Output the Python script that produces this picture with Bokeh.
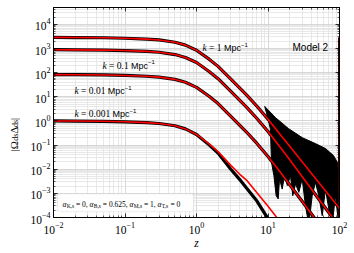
import math
from bokeh.plotting import figure
from bokeh.layouts import row
from bokeh.models import Range1d, LogAxis, FixedTicker, Label, BoxAnnotation
from bokeh.embed import file_html
from bokeh.resources import INLINE

# ---------------- data ----------------
z = [0.01, 0.02, 0.05, 0.1, 0.2, 0.3, 0.5, 0.7, 1.0, 1.5, 2.0, 3.0, 4.0, 5.0,
     7.0, 10.0, 15.0, 20.0, 30.0, 50.0, 70.0, 100.0]

# red curves (approximation)
approx_k1 = [2884, 2851, 2786, 2661, 2455, 2265, 1820, 1380, 851, 363, 182, 55.0,
             23.4, 12.0, 4.07, 1.17, 0.263, 0.0912, 0.0204, 0.00309, 0.000891, 0.00024]
approx_k01 = [891, 881, 861, 822, 759, 700, 562, 427, 263, 112, 56.2, 17.0, 7.24,
              3.72, 1.26, 0.363, 0.0776, 0.0251, 0.00501, 0.000646, 0.00017, 0.0000407]
approx_k001 = [83.2, 82.2, 80.4, 76.7, 70.8, 65.3, 52.5, 39.8, 24.5, 10.5, 5.25, 1.58,
               0.676, 0.347, 0.117, 0.0339, 0.00724, 0.00234, 0.000468, 0.0000603,
               0.0000158, 0.0000038]
approx_k0001 = [1.0, 0.989, 0.966, 0.923, 0.851, 0.785, 0.631, 0.468, 0.275, 0.112,
                0.0537, 0.0148, 0.00631, 0.00355, 0.00107, 0.000295, 0.0000631,
                0.00002, 0.000004, 5e-7, 1.26e-7, 3.16e-8]

# black curves (full solution)
exact_k1 = list(approx_k1)
exact_k01 = list(approx_k01)
exact_k001 = list(approx_k001)
exact_k0001 = [1.0, 0.989, 0.966, 0.923, 0.851, 0.785, 0.631, 0.468, 0.275, 0.102,
               0.0468, 0.0102, 0.0038, 0.00166, 0.000479, 0.0000891, 0.000005,
               6.3e-7, 6.3e-8, 1e-8, 3e-9, 1e-9]

# envelope of the oscillating black curves (k = 0.1 and 1) at high z
osc_z = [9.0, 12.7, 19.4, 30.4, 46.1, 63.7, 82.4, 93.7, 96.8, 100, 100,
         97.7, 87.9, 79.1, 70.8, 63.7, 57.3, 51.3, 46.1, 41.5, 37.2, 33.4, 30.1,
         27.0, 24.3, 22.2, 20.6, 18.6, 17.2, 15.8, 14.5, 13.9, 13.0, 12.1, 11.2,
         10.8, 9.5]
osc_v = [4.0, 1.38, 0.48, 0.20, 0.115, 0.072, 0.037, 0.019, 0.0072, 0.0028, 5e-5,
         5e-5, 8e-4, 5e-5, 2.25e-4, 1.52e-3, 1.19e-4, 8e-4, 2.86e-3, 8e-4, 5e-5,
         3.1e-4, 3.96e-3, 1.1e-3, 2.45e-3, 8e-4, 5.4e-3, 2.1e-3, 6.4e-3, 1.5e-3,
         4e-3, 5.9e-4, 8e-4, 5.4e-3, 0.019, 0.47, 2.2]

k_values = ["1", "0.1", "0.01", "0.001"]
x_ticks = [0.01, 0.1, 1, 10, 100]
y_ticks = [1e-4, 1e-3, 1e-2, 1e-1, 1, 10, 100, 1e3, 1e4]
params = [("K,s", "0"), ("B,s", "0.625"), ("M,s", "1"), ("T,s", "0")]
model_name = "Model 2"
x_title = "z"

# ---------------- figure ----------------
SERIF = "Liberation Serif"
SANS = "Liberation Sans"
H = 252

p = figure(width=330, height=H, x_axis_type="log", y_axis_type="log",
           x_range=Range1d(0.01, 100), y_range=Range1d(1e-4, 5e4),
           output_backend="svg", toolbar_location=None,
           min_border_left=33, min_border_right=11, min_border_top=7,
           min_border_bottom=35, background_fill_color="white",
           border_fill_color="white")
p.outline_line_color = "black"
p.outline_line_width = 1


def minors(lo, hi):
    out = []
    for e in range(lo, hi):
        for m in range(2, 10):
            out.append(m * 10.0 ** e)
    return out


xt = FixedTicker(ticks=x_ticks, minor_ticks=minors(-2, 2))
yt = FixedTicker(ticks=y_ticks, minor_ticks=minors(-4, 5))


def style_axis(ax, labels):
    ax.axis_line_color = "black"
    ax.axis_line_width = 1
    ax.major_tick_in = 4
    ax.major_tick_out = 0
    ax.minor_tick_in = 2
    ax.minor_tick_out = 0
    ax.major_tick_line_color = "black"
    ax.minor_tick_line_color = "black"
    ax.major_tick_line_width = 0.8
    ax.minor_tick_line_width = 0.6
    if labels:
        ax.major_label_text_font = SERIF
        ax.major_label_text_font_size = "11.5px"
        ax.major_label_text_color = "black"
    else:
        ax.major_label_text_font_size = "1px"
        ax.major_label_text_alpha = 0
        ax.major_label_standoff = 0


p.xaxis.ticker = xt
p.yaxis.ticker = yt
style_axis(p.xaxis[0], True)
style_axis(p.yaxis[0], True)
p.xaxis.major_label_standoff = 4
p.yaxis.major_label_standoff = 3
p.xaxis.axis_label = x_title
p.xaxis.axis_label_text_font = SERIF
p.xaxis.axis_label_text_font_style = "italic"
p.xaxis.axis_label_text_font_size = "11.5px"
p.xaxis.axis_label_text_color = "black"
p.xaxis.axis_label_standoff = 0

top = LogAxis(ticker=xt)
right = LogAxis(ticker=yt)
style_axis(top, False)
style_axis(right, False)
p.add_layout(top, "above")
p.add_layout(right, "right")

for g, t in ((p.xgrid, xt), (p.ygrid, yt)):
    g.ticker = t
    g.grid_line_color = "#cdcdcd"
    g.grid_line_width = 0.8
    g.minor_grid_line_color = "#e2e2e2"
    g.minor_grid_line_width = 0.8

# black curves
for vals in (exact_k1, exact_k01, exact_k001, exact_k0001):
    p.line(z, vals, line_color="black", line_width=3.2)
p.patch(osc_z, osc_v, fill_color="black", line_color="black", line_width=1)
p.line([z[-1], z[-1]], [exact_k1[0], 1e-6], line_color="black", line_width=3)

# red curves
for vals in (approx_k1, approx_k01, approx_k001, approx_k0001):
    p.line(z, vals, line_color="#ff0000", line_width=1.6)
p.line([z[-1], z[-1]], [approx_k1[0], 1e-6], line_color="#d00000", line_width=1.6)

# ---------------- texts ----------------
W_SERIF = {' ': 0.25, '|': 0.2, 'Ω': 0.768, 'Δ': 0.612, 'd': 0.5, 's': 0.389,
           'k': 0.444, '=': 0.564, '.': 0.25, ',': 0.25, 'α': 0.55, 'K': 0.722,
           'B': 0.667, 'M': 0.889, 'T': 0.611, 'z': 0.444}
W_SANS = {'M': 0.833, 'p': 0.556, 'c': 0.5, 'o': 0.556, 'd': 0.556, 'e': 0.556,
          'l': 0.222, ' ': 0.278, '−': 0.584}


def width(t, font, size):
    table = W_SERIF if font == SERIF else W_SANS
    return sum(table.get(ch, 0.5 if font == SERIF else 0.556) for ch in t) * size


def place(fig, pieces, x0, y0, rotated=False):
    pos = 0.0
    for (t, font, size, style, dy) in pieces:
        lead = len(t) - len(t.lstrip(" "))
        core = t.strip(" ")
        start = pos + width(" " * lead, font, size)
        pos += width(t, font, size)
        if not core:
            continue
        if rotated:
            lab = Label(x=x0 - dy, y=y0 + start, angle=math.pi / 2)
        else:
            lab = Label(x=x0 + start, y=y0 + dy)
        lab.x_units = "screen"
        lab.y_units = "screen"
        lab.text = core
        lab.text_font = font
        lab.text_font_size = f"{size}px"
        lab.text_font_style = style
        lab.text_color = "black"
        lab.text_align = "left"
        lab.text_baseline = "alphabetic"
        fig.add_layout(lab)


# frame-relative screen positions (x from left edge, y from bottom edge)
k_pos = [(149, 169.5), (49, 152), (21, 126.5), (21, 103.5)]
for kv, (xs, ys) in zip(k_values, k_pos):
    place(p, [("k", SERIF, 9.5, "italic", 0),
              (f" = {kv} ", SERIF, 9.5, "normal", 0),
              ("Mpc", SANS, 9, "normal", 0),
              ("−1", SANS, 6, "normal", 3.5)], xs, ys)

place(p, [(model_name, SANS, 10, "normal", 0)], 239, 170)

# parameter box
p.add_layout(BoxAnnotation(left=0.01137, right=0.908, bottom=1.74e-4, top=9.73e-4,
                           fill_color="white", fill_alpha=0.9,
                           line_color="#c8c8c8", line_width=1, border_radius=3))
box_pieces = []
for i, (sub, val) in enumerate(params):
    box_pieces.append(("α", SERIF, 7.5, "italic", 0))
    box_pieces.append((sub, SERIF, 5.5, "normal", -1.5))
    tail = f" = {val}" + (", " if i < len(params) - 1 else "")
    box_pieces.append((tail, SERIF, 7.5, "normal", 0))
place(p, box_pieces, 9, 13)

# y-axis title in a narrow strip to the left of the plot
yl = figure(width=20, height=H, x_range=Range1d(0, 1), y_range=Range1d(0, 1),
            output_backend="svg", toolbar_location=None, min_border=0,
            background_fill_color="white", border_fill_color="white")
yl.axis.visible = False
yl.grid.visible = False
yl.outline_line_color = None
place(yl, [("|", SERIF, 11, "normal", 0),
           ("Ω", SERIF, 11, "normal", 0),
           ("ds", SERIF, 8, "normal", -2),
           ("Δ", SERIF, 11, "normal", 0),
           ("ds", SERIF, 8, "normal", -2),
           ("|", SERIF, 11, "normal", 0)], 13, 66, rotated=True)

layout = row(yl, p)
open("out.html", "w").write(file_html(layout, INLINE))
